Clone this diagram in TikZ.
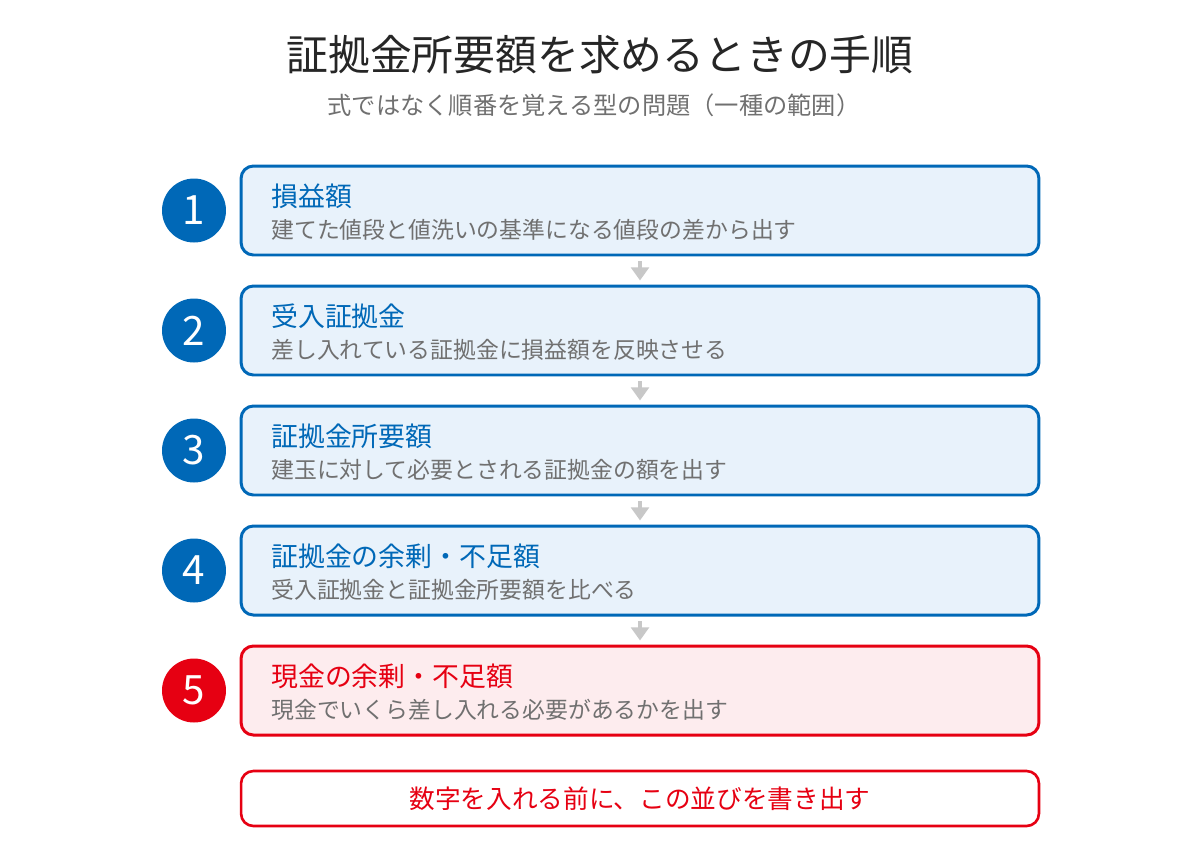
\documentclass[tikz,border=0pt]{standalone}
\usepackage{fontspec}
\setmainfont{Noto Sans CJK JP}
\usetikzlibrary{arrows.meta}
\definecolor{stepblue}{HTML}{0068B7}
\definecolor{stepbluefill}{HTML}{E8F2FB}
\definecolor{stepred}{HTML}{E60012}
\definecolor{stepredfill}{HTML}{FDECEE}
\definecolor{textgray}{HTML}{707070}
\definecolor{arrgray}{HTML}{C8C8C8}
\tikzset{
  stepbox/.style={draw=#1, fill=#1fill, line width=1.7pt, rounded corners=7pt,
    minimum width=15.96cm, minimum height=1.78cm, inner sep=0pt},
  stepnum/.style={circle, fill=#1, minimum size=1.28cm, inner sep=0pt,
    text=white, font=\fontsize{23}{23}\selectfont},
  steptitle/.style={anchor=west, inner sep=0pt, text=#1, font=\fontsize{15.3}{16}\selectfont},
  stepdesc/.style={anchor=west, inner sep=0pt, text=textgray, font=\fontsize{13}{14}\selectfont},
  flowarr/.style={draw=arrgray, line width=2.8pt, -{Triangle[width=10pt,length=7.4pt]},
    shorten <=2.8pt, shorten >=2.3pt},
}
\begin{document}
\begin{tikzpicture}[x=0.02cm, y=-0.02cm]
\useasboundingbox (0,0) rectangle (1200,850);
% title
\node[text=black!85, font=\fontsize{23.8}{24}\selectfont] (title) at (600,55) {証拠金所要額を求めるときの手順};
\node[text=textgray, font=\fontsize{13.8}{14}\selectfont] (subtitle) at (594,105) {式ではなく順番を覚える型の問題（一種の範囲）};
% steps
\node[stepbox=stepblue] (box1) at (640,210.5) {};
\node[stepnum=stepblue] (num1) at (194,210.5) {1};
\node[steptitle=stepblue] (tit1) at (271,196) {損益額};
\node[stepdesc] (desc1) at (271,230) {建てた値段と値洗いの基準になる値段の差から出す};
\node[stepbox=stepblue] (box2) at (640,330.5) {};
\node[stepnum=stepblue] (num2) at (194,330.5) {2};
\node[steptitle=stepblue] (tit2) at (271,316) {受入証拠金};
\node[stepdesc] (desc2) at (271,350) {差し入れている証拠金に損益額を反映させる};
\node[stepbox=stepblue] (box3) at (640,450.5) {};
\node[stepnum=stepblue] (num3) at (194,450.5) {3};
\node[steptitle=stepblue] (tit3) at (271,436) {証拠金所要額};
\node[stepdesc] (desc3) at (271,470) {建玉に対して必要とされる証拠金の額を出す};
\node[stepbox=stepblue] (box4) at (640,570.5) {};
\node[stepnum=stepblue] (num4) at (194,570.5) {4};
\node[steptitle=stepblue] (tit4) at (271,556) {証拠金の余剰・不足額};
\node[stepdesc] (desc4) at (271,590) {受入証拠金と証拠金所要額を比べる};
\node[stepbox=stepred] (box5) at (640,690.5) {};
\node[stepnum=stepred] (num5) at (194,690.5) {5};
\node[steptitle=stepred] (tit5) at (271,676) {現金の余剰・不足額};
\node[stepdesc] (desc5) at (271,710) {現金でいくら差し入れる必要があるかを出す};
% arrows
\draw[flowarr] (box1) -- (box2);
\draw[flowarr] (box2) -- (box3);
\draw[flowarr] (box3) -- (box4);
\draw[flowarr] (box4) -- (box5);
% note
\node[draw=stepred, fill=white, line width=1.5pt, rounded corners=7pt, minimum width=15.96cm,
  minimum height=1.1cm, text=stepred, font=\fontsize{14.6}{15}\selectfont] (note) at (640,798.5)
  {数字を入れる前に、この並びを書き出す};
\end{tikzpicture}
\end{document}
